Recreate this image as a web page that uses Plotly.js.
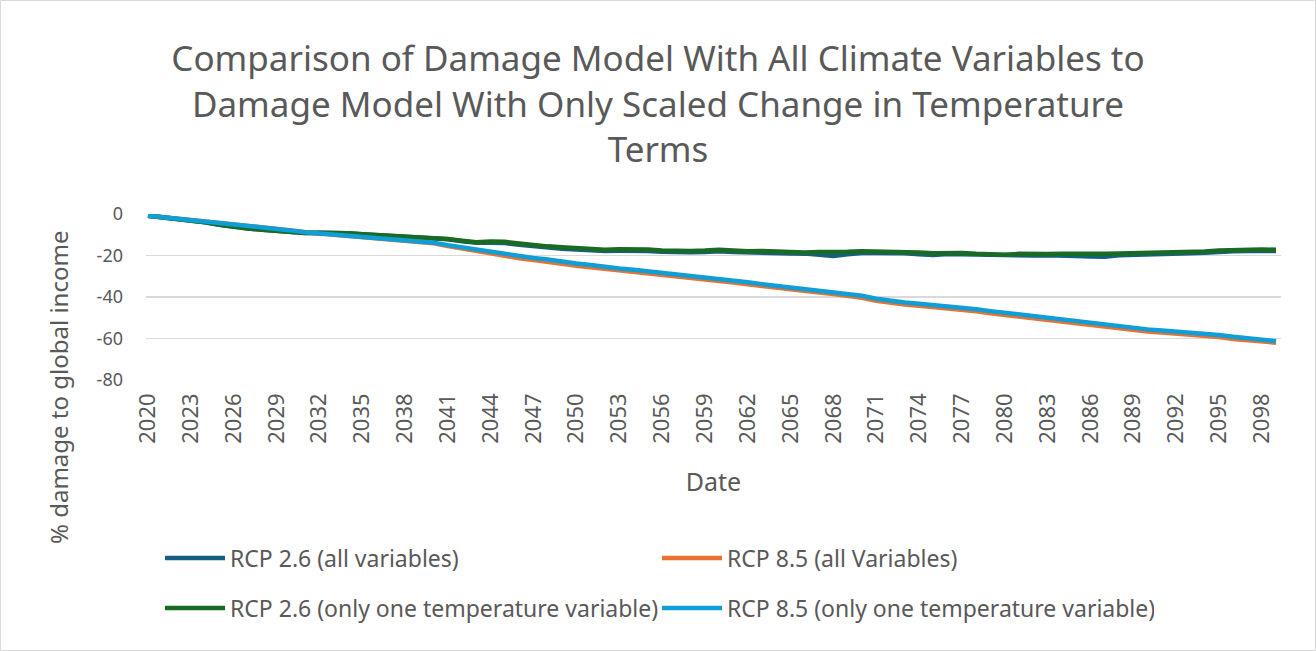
<!DOCTYPE html>
<html>
<head>
<meta charset="utf-8">
<script src="https://cdn.plot.ly/plotly-3.0.1.min.js"></script>
<style>
html,body{margin:0;padding:0;background:#fff;}
#chart{width:1316px;height:651px;}
</style>
</head>
<body>
<div id="chart"></div>
<script>
const years = [2020,2021,2022,2023,2024,2025,2026,2027,2028,2029,
  2030,2031,2032,2033,2034,2035,2036,2037,2038,2039,
  2040,2041,2042,2043,2044,2045,2046,2047,2048,2049,
  2050,2051,2052,2053,2054,2055,2056,2057,2058,2059,
  2060,2061,2062,2063,2064,2065,2066,2067,2068,2069,
  2070,2071,2072,2073,2074,2075,2076,2077,2078,2079,
  2080,2081,2082,2083,2084,2085,2086,2087,2088,2089,
  2090,2091,2092,2093,2094,2095,2096,2097,2098,2099];

const rcp26All = [-0.8,-1.5,-2.2,-3.0,-4.0,-5.2,-6.3,-7.0,-7.6,-8.2,
  -8.8,-9.1,-9.0,-8.9,-9.3,-9.7,-10.1,-10.4,-10.9,-11.1,
  -11.4,-12.2,-13.1,-13.9,-13.8,-14.0,-14.8,-15.6,-16.2,-16.7,
  -17.1,-17.5,-17.8,-17.7,-17.6,-17.8,-18.2,-18.5,-18.4,-18.3,
  -18.0,-18.3,-18.6,-18.5,-18.8,-19.0,-19.1,-19.5,-20.2,-19.4,
  -18.8,-18.8,-18.6,-18.9,-19.4,-19.8,-19.3,-19.4,-19.8,-20.1,
  -20.2,-19.9,-20.0,-19.9,-19.9,-20.2,-20.5,-20.6,-19.9,-19.6,
  -19.4,-19.2,-19.0,-18.9,-18.7,-18.2,-17.9,-17.8,-17.7,-17.8];

const rcp85All = [-0.8,-1.5,-2.1,-2.6,-3.2,-4.3,-5.0,-5.8,-6.5,-7.2,
  -7.9,-8.8,-9.4,-9.8,-10.4,-10.9,-11.5,-12.0,-12.7,-13.3,
  -14.1,-15.4,-16.6,-17.9,-19.2,-20.4,-21.3,-22.2,-22.9,-24.0,
  -24.9,-25.6,-26.6,-27.3,-27.9,-28.6,-29.6,-30.3,-30.9,-31.6,
  -32.2,-33.0,-33.9,-34.8,-35.6,-36.3,-37.1,-37.9,-38.6,-39.4,
  -40.4,-41.8,-42.8,-43.6,-44.2,-44.8,-45.6,-46.3,-46.9,-47.8,
  -48.6,-49.3,-50.0,-50.9,-52.0,-52.9,-53.6,-54.4,-55.1,-55.9,
  -56.6,-57.1,-57.6,-58.1,-58.6,-59.3,-60.2,-60.8,-61.4,-62.0];

const rcp26Temp = [-0.8,-1.5,-2.2,-3.0,-4.0,-5.2,-6.3,-7.0,-7.6,-8.2,
  -8.8,-9.1,-9.0,-8.9,-9.3,-9.7,-10.1,-10.4,-10.9,-11.1,
  -11.3,-12.1,-12.9,-13.6,-13.3,-13.4,-14.2,-15.0,-15.6,-16.0,
  -16.4,-16.9,-17.2,-17.0,-16.9,-17.1,-17.6,-17.9,-17.8,-17.6,
  -17.2,-17.6,-18.0,-17.8,-18.1,-18.4,-18.5,-18.3,-18.4,-18.2,
  -18.0,-18.1,-17.9,-18.2,-18.6,-18.9,-18.6,-18.8,-19.2,-19.5,
  -19.6,-19.2,-19.4,-19.3,-19.2,-19.3,-19.4,-19.2,-19.0,-18.9,
  -18.8,-18.6,-18.4,-18.3,-18.1,-17.6,-17.3,-17.2,-17.1,-17.2];

const rcp85Temp = [-0.8,-1.5,-2.1,-2.6,-3.2,-4.3,-5.0,-5.8,-6.5,-7.2,
  -7.9,-8.8,-9.4,-9.8,-10.4,-10.9,-11.4,-11.9,-12.6,-13.1,
  -13.8,-15.0,-16.0,-17.2,-18.4,-19.5,-20.4,-21.2,-21.9,-23.0,
  -23.9,-24.6,-25.6,-26.3,-26.9,-27.6,-28.6,-29.3,-29.9,-30.6,
  -31.2,-32.0,-32.9,-33.8,-34.6,-35.3,-36.1,-36.9,-37.6,-38.4,
  -39.4,-40.8,-41.8,-42.6,-43.2,-43.8,-44.6,-45.3,-45.9,-46.8,
  -47.6,-48.3,-49.0,-49.9,-51.0,-51.9,-52.6,-53.4,-54.1,-54.9,
  -55.6,-56.1,-56.6,-57.1,-57.6,-58.3,-59.2,-59.8,-60.5,-61.3];

const xTickYears = [2020,2023,2026,2029,2032,2035,2038,2041,2044,2047,2050,2053,2056,2059,
  2062,2065,2068,2071,2074,2077,2080,2083,2086,2089,2092,2095,2098];
const yTickVals = [0,-20,-40,-60,-80];
const yTickText = ['0','-20','-40','-60','-80'];

const seriesNames = ['RCP 2.6 (all variables)','RCP 8.5 (all Variables)',
  'RCP 2.6 (only one temperature variable)','RCP 8.5 (only one temperature variable)'];
const seriesColors = ['#156082','#E97132','#196B24','#0F9ED5'];
const seriesLegends = ['legend','legend','legend2','legend2'];
const seriesValues = [rcp26All, rcp85All, rcp26Temp, rcp85Temp];

const FONT = 'Noto Sans, Open Sans, sans-serif';
const TXT = '#595959';

const traces = seriesValues.map((vals, i) => ({
  type: 'scatter', mode: 'lines',
  x: years, y: vals, name: seriesNames[i],
  legend: seriesLegends[i],
  line: {color: seriesColors[i], width: 4.5},
  hoverinfo: 'skip'
}));

const W = 1316, H = 651, L = 146, R = 35, T = 214, B = 271;
const pw = W - L - R, ph = H - T - B;
const px2x = p => (p - L) / pw;
const py2y = p => (H - B - p) / ph;

const legendBase = {
  orientation: 'h', xref: 'container', yref: 'container',
  x: 160 / W, xanchor: 'left', yanchor: 'middle',
  entrywidth: 422, entrywidthmode: 'pixels', itemwidth: 60,
  font: {family: FONT, size: 23, color: TXT}, bgcolor: 'rgba(0,0,0,0)'
};

const layout = {
  width: W, height: H,
  margin: {l: L, r: R, t: T, b: B},
  paper_bgcolor: '#fff', plot_bgcolor: '#fff',
  font: {family: FONT, color: TXT},
  title: {
    text: 'Comparison of Damage Model With All Climate Variables to<br>Damage Model With Only Scaled Change in Temperature<br>Terms',
    font: {family: FONT, size: 35, color: TXT},
    xref: 'container', x: 0.5, xanchor: 'center',
    yref: 'container', y: 1 - 71 / H, yanchor: 'middle'
  },
  xaxis: {
    type: 'linear', range: [2019.86, 2099.35],
    tickmode: 'array', tickvals: xTickYears, ticktext: xTickYears.map(String),
    tickangle: -90, tickfont: {family: FONT, size: 22, color: TXT},
    showgrid: false, zeroline: false, showline: false, ticks: '',
    ticklabelstandoff: 8,
    title: {text: 'Date', font: {family: FONT, size: 25, color: TXT}, standoff: 30}
  },
  yaxis: {
    range: [-80, 0], tickmode: 'array', tickvals: yTickVals, ticktext: yTickText,
    tickfont: {family: FONT, size: 18, color: TXT},
    showgrid: true, gridcolor: '#d9d9d9', gridwidth: 1.5,
    zeroline: false, showline: false, ticks: '',
    ticklabelstandoff: 22
  },
  legend: Object.assign({}, legendBase, {y: 1 - 558 / H}),
  legend2: Object.assign({}, legendBase, {y: 1 - 608 / H}),
  annotations: [{
    text: '% damage to global income', textangle: -90, showarrow: false,
    xref: 'paper', yref: 'paper', x: px2x(58), y: py2y(388),
    xanchor: 'center', yanchor: 'middle',
    font: {family: FONT, size: 24, color: TXT}
  }],
  shapes: [{
    type: 'rect', xref: 'paper', yref: 'paper', layer: 'below',
    x0: px2x(0.5), x1: px2x(W - 0.5), y0: py2y(H - 0.5), y1: py2y(0.5),
    line: {color: '#d9d9d9', width: 1}, fillcolor: 'rgba(0,0,0,0)'
  }]
};

Plotly.newPlot('chart', traces, layout, {displayModeBar: false, staticPlot: true});
</script>
</body>
</html>
